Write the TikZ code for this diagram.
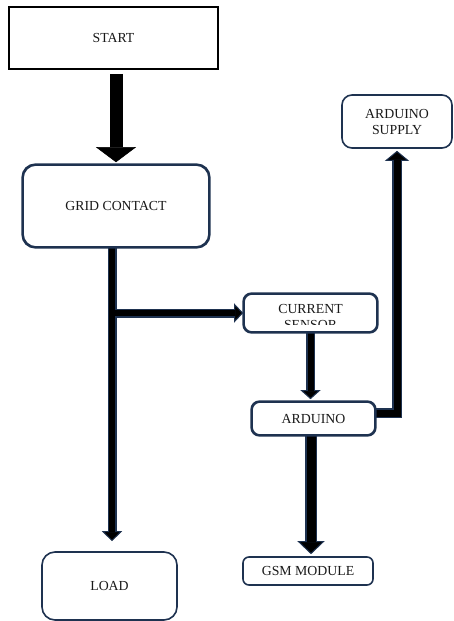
\documentclass[tikz,border=0pt]{standalone}
\usepackage{fontspec}
\setmainfont{Liberation Serif}
\usetikzlibrary{arrows.meta,calc}
\definecolor{navy}{RGB}{30,50,80}
\begin{document}
\begin{tikzpicture}[x=1pt,y=-1pt,
  txt/.style={font=\fontsize{13.8}{16}\selectfont, text=black!90, align=center},
  box/.style={draw=navy, line width=1.6pt, rounded corners=#1, inner sep=0pt, fill=white, txt},
  sharpbox/.style={draw=black, line width=1.5pt, inner sep=0pt, fill=white, txt},
  nv/.style={draw=navy, line width=#1, line join=miter},
  bk/.style={draw=black, line width=#1, line join=miter}
]
\useasboundingbox (0,0) rectangle (453,621);

% nodes
\node[sharpbox, minimum width=209, minimum height=62] (start) at (113.5,38) {START};
\node[box=13, minimum width=186, minimum height=82] (grid) at (116,206) {GRID CONTACT};
\node[box=10, minimum width=110, minimum height=53] (sup) at (397,121.5) {ARDUINO\\SUPPLY};
\node[box=8, minimum width=133, minimum height=38] (cs) at (310.5,313) {};
\begin{scope}
  \clip (244,295) rectangle (377,324.5);
  \node[txt, inner sep=0pt] (cstext) at (310.5,317) {CURRENT\\SENSOR};
\end{scope}
\node[box=8, minimum width=123, minimum height=33] (ard) at (313.5,418.5) {ARDUINO};
\node[box=6, minimum width=130, minimum height=28] (gsm) at (308,571) {GSM MODULE};
\node[box=13, minimum width=135, minimum height=68] (load) at (109.5,586) {LOAD};

\coordinate (j) at (112,313);
\coordinate (a5) at ($(ard.south)+(-2.5,0)$);
\coordinate (a6) at ($(ard.east)+(0,-5.5)$);

% START -> GRID (solid black)
\draw[bk=13, -{Triangle[length=15pt,width=40pt,line width=0.5pt,fill=black]}, shorten >=2pt, shorten <=4pt]
  (start.south -| grid.north) -- (grid.north);

% outer (navy) passes
\draw[nv=9, -{Triangle[length=10pt,width=20pt,line width=1pt,fill=black]}, shorten >=10pt]
  (grid.south -| j) -- (load.north -| j);
\draw[nv=9, -{Triangle[length=9pt,width=19pt,line width=1pt,fill=black]}]
  (j) -- (cs.west);
\draw[nv=9, -{Triangle[length=9pt,width=20pt,line width=1pt,fill=black]}, shorten >=2pt]
  (cs.south) -- (cs.south |- ard.north);
\draw[nv=12, -{Triangle[length=13pt,width=27pt,line width=1pt,fill=black]}, shorten >=2pt]
  (a5) -- (a5 |- gsm.north);
\draw[nv=10, -{Triangle[length=10pt,width=24pt,line width=1pt,fill=black]}, shorten >=2pt]
  (a6) -| (sup.south);

% inner (black) passes
\draw[bk=6] (grid.south -| j) -- ($(load.north -| j)+(0,-19)$);
\draw[bk=6] (j) -- ($(cs.west)+(-8,0)$);
\draw[bk=6] (cs.south) -- ($(cs.south |- ard.north)+(0,-10)$);
\draw[bk=9] (a5) -- ($(a5 |- gsm.north)+(0,-14)$);
\draw[bk=7] (a6) -| ($(sup.south)+(0,11)$);

% redraw box borders over connector ends
\draw[navy, line width=1.6pt, rounded corners=13] (grid.south west) rectangle (grid.north east);
\draw[navy, line width=1.6pt, rounded corners=8] (cs.south west) rectangle (cs.north east);
\draw[navy, line width=1.6pt, rounded corners=8] (ard.south west) rectangle (ard.north east);
\end{tikzpicture}
\end{document}
